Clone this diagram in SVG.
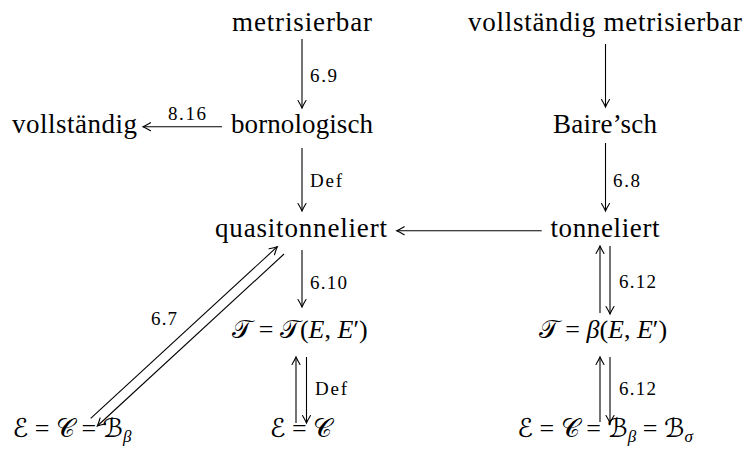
<svg xmlns="http://www.w3.org/2000/svg" width="745" height="452" viewBox="0 0 745 452">
<defs>
<style>
.t{font-family:"Liberation Serif","Times New Roman",serif;font-size:27px;fill:#000;text-anchor:middle}
.m{font-family:"Liberation Serif","Times New Roman",serif;font-size:26px;fill:#000;text-anchor:middle}
.s{font-family:"DejaVu Sans",serif;font-style:normal}
.i{font-style:italic}
.l{font-family:"Liberation Serif","Times New Roman",serif;font-size:19px;fill:#000}
.c{fill:none;stroke:#000;stroke-width:1.1}
</style>
<marker id="ah" markerUnits="userSpaceOnUse" viewBox="-9 -5 10 10" refX="0" refY="0" markerWidth="10" markerHeight="10" orient="auto" overflow="visible">
<path d="M-7.5,-4 Q-2.5,-1 0,0 Q-2.5,1 -7.5,4" fill="none" stroke="#000" stroke-width="1.1" stroke-linecap="round"/>
</marker>
</defs>
<rect width="745" height="452" fill="#fff"/>
<g id="connectors" class="c" marker-end="url(#ah)">
<line x1="302" y1="39" x2="302" y2="108"/>
<line x1="302" y1="148" x2="302" y2="211"/>
<line x1="605.5" y1="44" x2="605.5" y2="107"/>
<line x1="605.5" y1="143" x2="605.5" y2="211"/>
<line x1="222" y1="126.7" x2="143" y2="126.7"/>
<line x1="541.7" y1="230.7" x2="396.7" y2="230.7"/>
<line x1="302" y1="250" x2="302" y2="307"/>
<line x1="296" y1="423" x2="296" y2="357"/>
<line x1="306.5" y1="357" x2="306.5" y2="423"/>
<line x1="600" y1="313" x2="600" y2="246"/>
<line x1="610" y1="246" x2="610" y2="314"/>
<line x1="600" y1="422" x2="600" y2="357"/>
<line x1="610" y1="357" x2="610" y2="423"/>
<line x1="90.7" y1="418.3" x2="277.3" y2="246.7"/>
<line x1="284" y1="254" x2="97.3" y2="426"/>
</g>
<g id="labels">
<text class="l" x="310" y="82" textLength="27">6.9</text>
<text class="l" x="310" y="187" textLength="32">Def</text>
<text class="l" x="168" y="120" textLength="38">8.16</text>
<text class="l" x="613" y="187" textLength="27">6.8</text>
<text class="l" x="310" y="289" textLength="37">6.10</text>
<text class="l" x="151" y="325" textLength="26">6.7</text>
<text class="l" x="315" y="395" textLength="32">Def</text>
<text class="l" x="619" y="288" textLength="37">6.12</text>
<text class="l" x="619" y="395" textLength="37">6.12</text>
</g>
<g id="metrisierbar"><text class="t" x="302" y="31" textLength="140">metrisierbar</text></g>
<g id="vollstaendig-metrisierbar"><text class="t" x="605" y="31" textLength="274">vollständig metrisierbar</text></g>
<g id="vollstaendig"><text class="t" x="74.5" y="133" textLength="125">vollständig</text></g>
<g id="bornologisch"><text class="t" x="302" y="133" textLength="142">bornologisch</text></g>
<g id="bairesch"><text class="t" x="605" y="133" textLength="104">Baire’sch</text></g>
<g id="quasitonneliert"><text class="t" x="301" y="237" textLength="172">quasitonneliert</text></g>
<g id="tonneliert"><text class="t" x="605" y="237" textLength="109">tonneliert</text></g>
<g id="T-mackey"><text class="m" x="300" y="338"><tspan class="s">𝒯</tspan> = <tspan class="s">𝒯</tspan>(<tspan class="i">E</tspan>, <tspan class="i">E</tspan>′)</text></g>
<g id="T-beta"><text class="m" x="603" y="338"><tspan class="s">𝒯</tspan> = <tspan class="i">β</tspan>(<tspan class="i">E</tspan>, <tspan class="i">E</tspan>′)</text></g>
<g id="ECB"><text class="m" x="72" y="437"><tspan class="s">ℰ</tspan> = <tspan class="s">𝒞</tspan> = <tspan class="s">ℬ</tspan><tspan class="i" font-size="17" dy="5">β</tspan></text></g>
<g id="EC"><text class="m" x="301" y="437"><tspan class="s">ℰ</tspan> = <tspan class="s">𝒞</tspan></text></g>
<g id="ECBB"><text class="m" x="605" y="437"><tspan class="s">ℰ</tspan> = <tspan class="s">𝒞</tspan> = <tspan class="s">ℬ</tspan><tspan class="i" font-size="17" dy="5">β</tspan><tspan dy="-5"> = </tspan><tspan class="s">ℬ</tspan><tspan class="i" font-size="17" dy="5">σ</tspan></text></g>
</svg>
